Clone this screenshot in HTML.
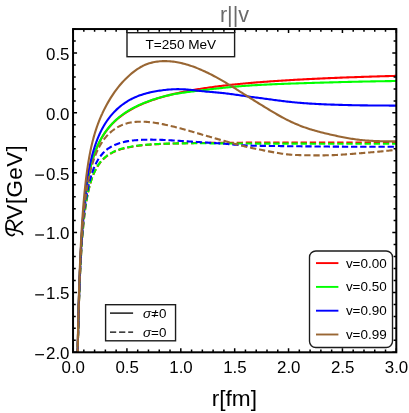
<!DOCTYPE html>
<html><head><meta charset="utf-8"><title>plot</title>
<style>html,body{margin:0;padding:0;background:#fff;}body{width:409px;height:413px;overflow:hidden;}svg{display:block;will-change:transform;}</style></head>
<body>
<svg width="409" height="413" viewBox="0 0 409 413">
<rect width="409" height="413" fill="#fff"/>
<defs><clipPath id="c"><rect x="73.05" y="29.05" width="323.25" height="323.25"/></clipPath></defs>
<g clip-path="url(#c)" fill="none" stroke-width="2.1" stroke-linejoin="round">
<path d="M76.28 455.80 L76.49 434.70 L76.70 416.02 L76.91 399.34 L77.12 384.37 L77.33 370.85 L77.54 358.59 L77.75 347.40 L77.96 337.16 L78.17 327.75 L78.38 319.07 L78.58 311.04 L78.79 303.58 L79.00 296.64 L79.21 290.17 L79.42 284.11 L79.63 278.43 L79.84 273.10 L80.05 268.07 L80.26 263.34 L80.47 258.86 L80.68 254.63 L80.89 250.61 L81.10 246.80 L81.31 243.18 L81.51 239.73 L81.72 236.44 L81.93 233.30 L82.14 230.30 L82.35 227.44 L82.56 224.69 L82.77 222.06 L82.98 219.53 L83.19 217.11 L83.40 214.78 L83.61 212.53 L83.82 210.38 L84.03 208.30 L84.24 206.29 L84.45 204.35 L84.65 202.48 L84.86 200.68 L85.07 198.93 L85.28 197.24 L85.49 195.60 L85.70 194.02 L85.91 192.48 L86.12 190.99 L86.33 189.55 L86.54 188.14 L86.75 186.78 L86.96 185.45 L87.17 184.16 L87.38 182.91 L87.58 181.69 L87.79 180.50 L88.00 179.34 L88.21 178.22 L88.42 177.12 L88.63 176.04 L88.84 175.00 L89.05 173.98 L89.26 172.98 L89.47 172.01 L89.68 171.06 L89.89 170.13 L90.10 169.22 L90.31 168.33 L90.51 167.46 L90.72 166.61 L90.93 165.78 L91.14 164.97 L91.35 164.17 L91.56 163.39 L91.77 162.62 L91.98 161.87 L92.19 161.13 L92.40 160.41 L92.61 159.70 L92.82 159.01 L93.03 158.33 L93.24 157.66 L93.44 157.00 L93.65 156.36 L93.86 155.72 L94.07 155.10 L94.28 154.49 L94.49 153.89 L94.70 153.30 L94.91 152.72 L95.12 152.14 L95.33 151.58 L95.54 151.03 L95.75 150.49 L95.96 149.95 L96.17 149.42 L96.38 148.91 L96.58 148.40 L96.79 147.89 L97.00 147.40 L97.21 146.91 L97.42 146.43 L97.63 145.96 L97.84 145.49 L98.05 145.03 L98.26 144.58 L98.47 144.13 L98.68 143.69 L98.89 143.25 L99.10 142.83 L99.31 142.40 L99.51 141.99 L99.72 141.57 L99.93 141.17 L100.14 140.77 L100.35 140.37 L100.56 139.98 L100.77 139.60 L100.98 139.22 L101.19 138.84 L101.40 138.47 L101.61 138.10 L101.82 137.74 L102.03 137.38 L102.24 137.03 L102.44 136.68 L102.65 136.33 L102.86 135.99 L103.07 135.66 L103.28 135.32 L103.49 134.99 L103.70 134.67 L103.91 134.34 L104.12 134.03 L104.33 133.71 L104.54 133.40 L104.75 133.09 L104.96 132.79 L105.17 132.48 L105.38 132.19 L106.70 130.36 L108.03 128.65 L109.36 127.04 L110.69 125.53 L112.02 124.09 L113.35 122.74 L114.67 121.45 L116.00 120.22 L117.33 119.06 L118.66 117.94 L119.99 116.88 L121.32 115.86 L122.64 114.88 L123.97 113.95 L125.30 113.05 L126.63 112.18 L127.96 111.35 L129.29 110.55 L130.62 109.78 L131.94 109.03 L133.27 108.31 L134.60 107.62 L135.93 106.94 L137.26 106.29 L138.59 105.66 L139.91 105.05 L141.24 104.45 L142.57 103.88 L143.90 103.32 L145.23 102.78 L146.56 102.25 L147.88 101.74 L149.21 101.24 L150.54 100.75 L151.87 100.28 L153.20 99.82 L154.53 99.38 L155.86 98.94 L157.18 98.51 L158.51 98.10 L159.84 97.69 L161.17 97.30 L162.50 96.91 L163.83 96.54 L165.15 96.17 L166.48 95.81 L167.81 95.46 L169.14 95.12 L170.47 94.78 L171.80 94.46 L173.12 94.14 L174.45 93.82 L175.78 93.52 L177.11 93.22 L178.44 92.92 L179.77 92.63 L181.10 92.35 L182.42 92.08 L183.75 91.80 L185.08 91.54 L186.41 91.28 L187.74 91.03 L189.07 90.78 L190.39 90.53 L191.72 90.29 L193.05 90.05 L194.38 89.82 L195.71 89.60 L197.04 89.37 L198.36 89.16 L199.69 88.94 L201.02 88.73 L202.35 88.52 L203.68 88.32 L205.01 88.12 L206.34 87.92 L207.66 87.73 L208.99 87.54 L210.32 87.36 L211.65 87.17 L212.98 86.99 L214.31 86.82 L215.63 86.64 L216.96 86.47 L218.29 86.30 L219.62 86.14 L220.95 85.98 L222.28 85.82 L223.60 85.66 L224.93 85.50 L226.26 85.35 L227.59 85.20 L228.92 85.05 L230.25 84.91 L231.58 84.76 L232.90 84.62 L234.23 84.48 L235.56 84.35 L236.89 84.21 L238.22 84.08 L239.55 83.95 L240.87 83.82 L242.20 83.69 L243.53 83.57 L244.86 83.44 L246.19 83.32 L247.52 83.20 L248.84 83.08 L250.17 82.97 L251.50 82.85 L252.83 82.74 L254.16 82.63 L255.49 82.52 L256.82 82.41 L258.14 82.30 L259.47 82.20 L260.80 82.09 L262.13 81.99 L263.46 81.89 L264.79 81.79 L266.11 81.69 L267.44 81.59 L268.77 81.49 L270.10 81.40 L271.43 81.30 L272.76 81.21 L274.08 81.12 L275.41 81.03 L276.74 80.94 L278.07 80.85 L279.40 80.77 L280.73 80.68 L282.06 80.59 L283.38 80.51 L284.71 80.43 L286.04 80.35 L287.37 80.27 L288.70 80.19 L290.03 80.11 L291.35 80.03 L292.68 79.95 L294.01 79.87 L295.34 79.80 L296.67 79.72 L298.00 79.65 L299.32 79.58 L300.65 79.51 L301.98 79.44 L303.31 79.37 L304.64 79.30 L305.97 79.23 L307.30 79.16 L308.62 79.09 L309.95 79.03 L311.28 78.96 L312.61 78.89 L313.94 78.83 L315.27 78.77 L316.59 78.70 L317.92 78.64 L319.25 78.58 L320.58 78.52 L321.91 78.46 L323.24 78.40 L324.57 78.34 L325.89 78.28 L327.22 78.22 L328.55 78.17 L329.88 78.11 L331.21 78.05 L332.54 78.00 L333.86 77.94 L335.19 77.89 L336.52 77.83 L337.85 77.78 L339.18 77.73 L340.51 77.67 L341.83 77.62 L343.16 77.57 L344.49 77.52 L345.82 77.47 L347.15 77.42 L348.48 77.37 L349.81 77.32 L351.13 77.27 L352.46 77.23 L353.79 77.18 L355.12 77.13 L356.45 77.08 L357.78 77.04 L359.10 76.99 L360.43 76.95 L361.76 76.90 L363.09 76.86 L364.42 76.81 L365.75 76.77 L367.07 76.73 L368.40 76.68 L369.73 76.64 L371.06 76.60 L372.39 76.56 L373.72 76.51 L375.05 76.47 L376.37 76.43 L377.70 76.39 L379.03 76.35 L380.36 76.31 L381.69 76.27 L383.02 76.23 L384.34 76.20 L385.67 76.16 L387.00 76.12 L388.33 76.08 L389.66 76.04 L390.99 76.01 L392.31 75.97 L393.64 75.93 L394.97 75.90 L396.30 75.86" stroke="#ff0000"/>
<path d="M76.28 458.99 L76.49 438.10 L76.70 419.61 L76.91 403.13 L77.12 388.36 L77.33 375.04 L77.54 362.97 L77.75 351.98 L77.96 341.93 L78.17 332.72 L78.38 324.23 L78.58 316.39 L78.79 309.13 L79.00 302.38 L79.21 296.10 L79.42 290.23 L79.63 284.74 L79.84 279.60 L80.05 274.76 L80.26 270.21 L80.47 265.92 L80.68 261.87 L80.89 258.04 L81.10 254.42 L81.31 250.98 L81.51 247.71 L81.72 244.61 L81.93 241.65 L82.14 238.83 L82.35 236.15 L82.56 233.58 L82.77 231.13 L82.98 228.78 L83.19 226.54 L83.40 224.38 L83.61 222.32 L83.82 220.33 L84.03 218.43 L84.24 216.60 L84.45 214.84 L84.65 213.14 L84.86 211.51 L85.07 209.93 L85.28 208.41 L85.49 206.95 L85.70 205.53 L85.91 204.17 L86.12 202.85 L86.33 201.57 L86.54 200.33 L86.75 199.14 L86.96 197.98 L87.17 196.85 L87.38 195.77 L87.58 194.71 L87.79 193.69 L88.00 192.69 L88.21 191.73 L88.42 190.79 L88.63 189.88 L88.84 189.00 L89.05 188.14 L89.26 187.30 L89.47 186.49 L89.68 185.70 L89.89 184.93 L90.10 184.17 L90.31 183.44 L90.51 182.73 L90.72 182.04 L90.93 181.36 L91.14 180.70 L91.35 180.06 L91.56 179.43 L91.77 178.82 L91.98 178.22 L92.19 177.64 L92.40 177.07 L92.61 176.51 L92.82 175.97 L93.03 175.43 L93.24 174.91 L93.44 174.41 L93.65 173.91 L93.86 173.43 L94.07 172.95 L94.28 172.49 L94.49 172.03 L94.70 171.59 L94.91 171.15 L95.12 170.72 L95.33 170.31 L95.54 169.90 L95.75 169.50 L95.96 169.11 L96.17 168.72 L96.38 168.35 L96.58 167.98 L96.79 167.61 L97.00 167.26 L97.21 166.91 L97.42 166.57 L97.63 166.24 L97.84 165.91 L98.05 165.59 L98.26 165.27 L98.47 164.96 L98.68 164.66 L98.89 164.36 L99.10 164.07 L99.31 163.78 L99.51 163.49 L99.72 163.22 L99.93 162.94 L100.14 162.68 L100.35 162.41 L100.56 162.16 L100.77 161.90 L100.98 161.65 L101.19 161.41 L101.40 161.17 L101.61 160.93 L101.82 160.70 L102.03 160.47 L102.24 160.24 L102.44 160.02 L102.65 159.80 L102.86 159.59 L103.07 159.38 L103.28 159.17 L103.49 158.97 L103.70 158.77 L103.91 158.57 L104.12 158.38 L104.33 158.19 L104.54 158.00 L104.75 157.81 L104.96 157.63 L105.17 157.45 L105.38 157.28 L106.70 156.22 L108.03 155.26 L109.36 154.38 L110.69 153.58 L112.02 152.85 L113.35 152.17 L114.67 151.56 L116.00 150.99 L117.33 150.46 L118.66 149.98 L119.99 149.53 L121.32 149.12 L122.64 148.73 L123.97 148.37 L125.30 148.04 L126.63 147.73 L127.96 147.44 L129.29 147.17 L130.62 146.92 L131.94 146.69 L133.27 146.47 L134.60 146.26 L135.93 146.07 L137.26 145.89 L138.59 145.72 L139.91 145.56 L141.24 145.41 L142.57 145.27 L143.90 145.13 L145.23 145.01 L146.56 144.89 L147.88 144.78 L149.21 144.68 L150.54 144.58 L151.87 144.48 L153.20 144.39 L154.53 144.31 L155.86 144.23 L157.18 144.16 L158.51 144.09 L159.84 144.02 L161.17 143.96 L162.50 143.90 L163.83 143.84 L165.15 143.78 L166.48 143.73 L167.81 143.68 L169.14 143.64 L170.47 143.59 L171.80 143.55 L173.12 143.51 L174.45 143.47 L175.78 143.43 L177.11 143.40 L178.44 143.37 L179.77 143.33 L181.10 143.30 L182.42 143.27 L183.75 143.25 L185.08 143.22 L186.41 143.19 L187.74 143.17 L189.07 143.15 L190.39 143.12 L191.72 143.10 L193.05 143.08 L194.38 143.06 L195.71 143.04 L197.04 143.02 L198.36 143.01 L199.69 142.99 L201.02 142.97 L202.35 142.96 L203.68 142.94 L205.01 142.93 L206.34 142.91 L207.66 142.90 L208.99 142.89 L210.32 142.88 L211.65 142.86 L212.98 142.85 L214.31 142.84 L215.63 142.83 L216.96 142.82 L218.29 142.81 L219.62 142.80 L220.95 142.79 L222.28 142.78 L223.60 142.77 L224.93 142.76 L226.26 142.75 L227.59 142.75 L228.92 142.74 L230.25 142.73 L231.58 142.72 L232.90 142.72 L234.23 142.71 L235.56 142.70 L236.89 142.70 L238.22 142.69 L239.55 142.69 L240.87 142.68 L242.20 142.68 L243.53 142.67 L244.86 142.67 L246.19 142.66 L247.52 142.66 L248.84 142.65 L250.17 142.65 L251.50 142.64 L252.83 142.64 L254.16 142.64 L255.49 142.63 L256.82 142.63 L258.14 142.62 L259.47 142.62 L260.80 142.62 L262.13 142.62 L263.46 142.61 L264.79 142.61 L266.11 142.61 L267.44 142.60 L268.77 142.60 L270.10 142.60 L271.43 142.60 L272.76 142.59 L274.08 142.59 L275.41 142.59 L276.74 142.59 L278.07 142.59 L279.40 142.59 L280.73 142.58 L282.06 142.58 L283.38 142.58 L284.71 142.58 L286.04 142.58 L287.37 142.58 L288.70 142.57 L290.03 142.57 L291.35 142.57 L292.68 142.57 L294.01 142.57 L295.34 142.57 L296.67 142.57 L298.00 142.57 L299.32 142.56 L300.65 142.56 L301.98 142.56 L303.31 142.56 L304.64 142.56 L305.97 142.56 L307.30 142.56 L308.62 142.56 L309.95 142.56 L311.28 142.56 L312.61 142.56 L313.94 142.56 L315.27 142.56 L316.59 142.56 L317.92 142.56 L319.25 142.55 L320.58 142.55 L321.91 142.55 L323.24 142.55 L324.57 142.55 L325.89 142.55 L327.22 142.55 L328.55 142.55 L329.88 142.55 L331.21 142.55 L332.54 142.55 L333.86 142.55 L335.19 142.55 L336.52 142.55 L337.85 142.55 L339.18 142.55 L340.51 142.55 L341.83 142.55 L343.16 142.55 L344.49 142.55 L345.82 142.55 L347.15 142.55 L348.48 142.55 L349.81 142.55 L351.13 142.55 L352.46 142.55 L353.79 142.55 L355.12 142.55 L356.45 142.55 L357.78 142.55 L359.10 142.55 L360.43 142.55 L361.76 142.55 L363.09 142.55 L364.42 142.55 L365.75 142.55 L367.07 142.55 L368.40 142.55 L369.73 142.55 L371.06 142.55 L372.39 142.55 L373.72 142.55 L375.05 142.55 L376.37 142.55 L377.70 142.55 L379.03 142.55 L380.36 142.56 L381.69 142.56 L383.02 142.56 L384.34 142.56 L385.67 142.56 L387.00 142.56 L388.33 142.56 L389.66 142.56 L390.99 142.56 L392.31 142.56 L393.64 142.56 L394.97 142.56 L396.30 142.56" stroke="#ff0000" stroke-dasharray="6.3 2.84" stroke-dashoffset="7.04"/>
<path d="M76.28 455.77 L76.49 434.67 L76.70 415.98 L76.91 399.31 L77.12 384.33 L77.33 370.81 L77.54 358.54 L77.75 347.36 L77.96 337.11 L78.17 327.70 L78.38 319.02 L78.58 310.98 L78.79 303.53 L79.00 296.59 L79.21 290.11 L79.42 284.05 L79.63 278.37 L79.84 273.03 L80.05 268.01 L80.26 263.27 L80.47 258.79 L80.68 254.55 L80.89 250.54 L81.10 246.72 L81.31 243.10 L81.51 239.65 L81.72 236.36 L81.93 233.22 L82.14 230.22 L82.35 227.35 L82.56 224.60 L82.77 221.97 L82.98 219.44 L83.19 217.01 L83.40 214.68 L83.61 212.43 L83.82 210.27 L84.03 208.19 L84.24 206.18 L84.45 204.25 L84.65 202.37 L84.86 200.57 L85.07 198.82 L85.28 197.13 L85.49 195.49 L85.70 193.90 L85.91 192.36 L86.12 190.87 L86.33 189.42 L86.54 188.01 L86.75 186.65 L86.96 185.32 L87.17 184.03 L87.38 182.78 L87.58 181.55 L87.79 180.36 L88.00 179.20 L88.21 178.07 L88.42 176.97 L88.63 175.90 L88.84 174.85 L89.05 173.83 L89.26 172.83 L89.47 171.86 L89.68 170.90 L89.89 169.97 L90.10 169.06 L90.31 168.17 L90.51 167.30 L90.72 166.45 L90.93 165.61 L91.14 164.80 L91.35 164.00 L91.56 163.21 L91.77 162.45 L91.98 161.69 L92.19 160.96 L92.40 160.23 L92.61 159.52 L92.82 158.83 L93.03 158.14 L93.24 157.47 L93.44 156.81 L93.65 156.17 L93.86 155.53 L94.07 154.91 L94.28 154.29 L94.49 153.69 L94.70 153.10 L94.91 152.52 L95.12 151.94 L95.33 151.38 L95.54 150.83 L95.75 150.28 L95.96 149.74 L96.17 149.22 L96.38 148.70 L96.58 148.18 L96.79 147.68 L97.00 147.18 L97.21 146.69 L97.42 146.21 L97.63 145.74 L97.84 145.27 L98.05 144.81 L98.26 144.35 L98.47 143.90 L98.68 143.46 L98.89 143.02 L99.10 142.59 L99.31 142.17 L99.51 141.75 L99.72 141.34 L99.93 140.93 L100.14 140.53 L100.35 140.13 L100.56 139.74 L100.77 139.35 L100.98 138.97 L101.19 138.59 L101.40 138.22 L101.61 137.85 L101.82 137.49 L102.03 137.13 L102.24 136.77 L102.44 136.42 L102.65 136.07 L102.86 135.73 L103.07 135.39 L103.28 135.06 L103.49 134.73 L103.70 134.40 L103.91 134.08 L104.12 133.76 L104.33 133.44 L104.54 133.13 L104.75 132.82 L104.96 132.51 L105.17 132.21 L105.38 131.91 L106.70 130.08 L108.03 128.36 L109.36 126.74 L110.69 125.22 L112.02 123.78 L113.35 122.41 L114.67 121.12 L116.00 119.89 L117.33 118.71 L118.66 117.60 L119.99 116.53 L121.32 115.51 L122.64 114.53 L123.97 113.59 L125.30 112.69 L126.63 111.82 L127.96 110.99 L129.29 110.19 L130.62 109.42 L131.94 108.68 L133.27 107.96 L134.60 107.27 L135.93 106.60 L137.26 105.95 L138.59 105.32 L139.91 104.72 L141.24 104.13 L142.57 103.56 L143.90 103.01 L145.23 102.48 L146.56 101.96 L147.88 101.46 L149.21 100.97 L150.54 100.49 L151.87 100.03 L153.20 99.58 L154.53 99.14 L155.86 98.72 L157.18 98.30 L158.51 97.90 L159.84 97.51 L161.17 97.14 L162.50 96.77 L163.83 96.42 L165.15 96.08 L166.48 95.76 L167.81 95.44 L169.14 95.14 L170.47 94.86 L171.80 94.58 L173.12 94.32 L174.45 94.07 L175.78 93.83 L177.11 93.60 L178.44 93.38 L179.77 93.17 L181.10 92.97 L182.42 92.77 L183.75 92.59 L185.08 92.41 L186.41 92.23 L187.74 92.06 L189.07 91.89 L190.39 91.73 L191.72 91.56 L193.05 91.40 L194.38 91.24 L195.71 91.08 L197.04 90.91 L198.36 90.75 L199.69 90.58 L201.02 90.42 L202.35 90.25 L203.68 90.09 L205.01 89.92 L206.34 89.76 L207.66 89.60 L208.99 89.44 L210.32 89.28 L211.65 89.12 L212.98 88.97 L214.31 88.82 L215.63 88.67 L216.96 88.52 L218.29 88.38 L219.62 88.23 L220.95 88.09 L222.28 87.95 L223.60 87.81 L224.93 87.67 L226.26 87.53 L227.59 87.40 L228.92 87.27 L230.25 87.14 L231.58 87.01 L232.90 86.88 L234.23 86.76 L235.56 86.64 L236.89 86.52 L238.22 86.40 L239.55 86.29 L240.87 86.18 L242.20 86.07 L243.53 85.97 L244.86 85.87 L246.19 85.77 L247.52 85.68 L248.84 85.59 L250.17 85.50 L251.50 85.41 L252.83 85.32 L254.16 85.24 L255.49 85.16 L256.82 85.08 L258.14 85.00 L259.47 84.93 L260.80 84.86 L262.13 84.79 L263.46 84.72 L264.79 84.65 L266.11 84.58 L267.44 84.52 L268.77 84.46 L270.10 84.40 L271.43 84.34 L272.76 84.28 L274.08 84.22 L275.41 84.16 L276.74 84.11 L278.07 84.06 L279.40 84.00 L280.73 83.95 L282.06 83.90 L283.38 83.85 L284.71 83.80 L286.04 83.75 L287.37 83.71 L288.70 83.66 L290.03 83.61 L291.35 83.57 L292.68 83.52 L294.01 83.48 L295.34 83.44 L296.67 83.39 L298.00 83.35 L299.32 83.31 L300.65 83.26 L301.98 83.22 L303.31 83.18 L304.64 83.14 L305.97 83.10 L307.30 83.06 L308.62 83.02 L309.95 82.98 L311.28 82.94 L312.61 82.90 L313.94 82.86 L315.27 82.82 L316.59 82.78 L317.92 82.75 L319.25 82.71 L320.58 82.67 L321.91 82.63 L323.24 82.59 L324.57 82.55 L325.89 82.52 L327.22 82.48 L328.55 82.44 L329.88 82.40 L331.21 82.36 L332.54 82.33 L333.86 82.29 L335.19 82.25 L336.52 82.22 L337.85 82.18 L339.18 82.14 L340.51 82.11 L341.83 82.07 L343.16 82.04 L344.49 82.00 L345.82 81.97 L347.15 81.94 L348.48 81.90 L349.81 81.87 L351.13 81.84 L352.46 81.81 L353.79 81.77 L355.12 81.74 L356.45 81.71 L357.78 81.68 L359.10 81.66 L360.43 81.63 L361.76 81.60 L363.09 81.57 L364.42 81.54 L365.75 81.52 L367.07 81.49 L368.40 81.46 L369.73 81.44 L371.06 81.41 L372.39 81.39 L373.72 81.37 L375.05 81.34 L376.37 81.32 L377.70 81.29 L379.03 81.27 L380.36 81.25 L381.69 81.23 L383.02 81.21 L384.34 81.18 L385.67 81.16 L387.00 81.14 L388.33 81.12 L389.66 81.10 L390.99 81.08 L392.31 81.06 L393.64 81.05 L394.97 81.03 L396.30 81.01" stroke="#00ff00"/>
<path d="M76.28 458.95 L76.49 438.06 L76.70 419.57 L76.91 403.09 L77.12 388.31 L77.33 374.99 L77.54 362.92 L77.75 351.93 L77.96 341.88 L78.17 332.66 L78.38 324.17 L78.58 316.33 L78.79 309.06 L79.00 302.31 L79.21 296.03 L79.42 290.16 L79.63 284.67 L79.84 279.52 L80.05 274.68 L80.26 270.13 L80.47 265.84 L80.68 261.79 L80.89 257.96 L81.10 254.33 L81.31 250.89 L81.51 247.62 L81.72 244.51 L81.93 241.55 L82.14 238.73 L82.35 236.04 L82.56 233.48 L82.77 231.02 L82.98 228.67 L83.19 226.42 L83.40 224.27 L83.61 222.20 L83.82 220.22 L84.03 218.31 L84.24 216.48 L84.45 214.71 L84.65 213.01 L84.86 211.38 L85.07 209.80 L85.28 208.28 L85.49 206.81 L85.70 205.40 L85.91 204.03 L86.12 202.70 L86.33 201.43 L86.54 200.19 L86.75 198.99 L86.96 197.83 L87.17 196.70 L87.38 195.61 L87.58 194.56 L87.79 193.53 L88.00 192.53 L88.21 191.57 L88.42 190.63 L88.63 189.72 L88.84 188.83 L89.05 187.97 L89.26 187.13 L89.47 186.32 L89.68 185.52 L89.89 184.75 L90.10 184.00 L90.31 183.26 L90.51 182.55 L90.72 181.86 L90.93 181.18 L91.14 180.52 L91.35 179.87 L91.56 179.24 L91.77 178.63 L91.98 178.03 L92.19 177.44 L92.40 176.87 L92.61 176.31 L92.82 175.77 L93.03 175.23 L93.24 174.71 L93.44 174.20 L93.65 173.71 L93.86 173.22 L94.07 172.74 L94.28 172.28 L94.49 171.82 L94.70 171.37 L94.91 170.94 L95.12 170.51 L95.33 170.09 L95.54 169.68 L95.75 169.28 L95.96 168.88 L96.17 168.50 L96.38 168.12 L96.58 167.75 L96.79 167.39 L97.00 167.03 L97.21 166.68 L97.42 166.34 L97.63 166.01 L97.84 165.68 L98.05 165.35 L98.26 165.04 L98.47 164.72 L98.68 164.42 L98.89 164.12 L99.10 163.83 L99.31 163.54 L99.51 163.25 L99.72 162.98 L99.93 162.70 L100.14 162.43 L100.35 162.17 L100.56 161.91 L100.77 161.66 L100.98 161.41 L101.19 161.16 L101.40 160.92 L101.61 160.68 L101.82 160.45 L102.03 160.22 L102.24 159.99 L102.44 159.77 L102.65 159.55 L102.86 159.34 L103.07 159.13 L103.28 158.92 L103.49 158.71 L103.70 158.51 L103.91 158.31 L104.12 158.12 L104.33 157.93 L104.54 157.74 L104.75 157.55 L104.96 157.37 L105.17 157.19 L105.38 157.02 L106.70 155.95 L108.03 154.99 L109.36 154.11 L110.69 153.31 L112.02 152.58 L113.35 151.91 L114.67 151.29 L116.00 150.73 L117.33 150.20 L118.66 149.72 L119.99 149.28 L121.32 148.86 L122.64 148.48 L123.97 148.13 L125.30 147.80 L126.63 147.49 L127.96 147.21 L129.29 146.94 L130.62 146.69 L131.94 146.46 L133.27 146.25 L134.60 146.04 L135.93 145.85 L137.26 145.68 L138.59 145.51 L139.91 145.36 L141.24 145.21 L142.57 145.07 L143.90 144.95 L145.23 144.83 L146.56 144.71 L147.88 144.61 L149.21 144.51 L150.54 144.42 L151.87 144.33 L153.20 144.25 L154.53 144.17 L155.86 144.10 L157.18 144.03 L158.51 143.97 L159.84 143.91 L161.17 143.85 L162.50 143.80 L163.83 143.75 L165.15 143.71 L166.48 143.66 L167.81 143.62 L169.14 143.59 L170.47 143.55 L171.80 143.52 L173.12 143.49 L174.45 143.47 L175.78 143.44 L177.11 143.42 L178.44 143.40 L179.77 143.38 L181.10 143.37 L182.42 143.35 L183.75 143.34 L185.08 143.33 L186.41 143.32 L187.74 143.31 L189.07 143.30 L190.39 143.30 L191.72 143.30 L193.05 143.29 L194.38 143.29 L195.71 143.29 L197.04 143.29 L198.36 143.29 L199.69 143.29 L201.02 143.30 L202.35 143.30 L203.68 143.30 L205.01 143.31 L206.34 143.31 L207.66 143.32 L208.99 143.32 L210.32 143.33 L211.65 143.34 L212.98 143.35 L214.31 143.35 L215.63 143.36 L216.96 143.37 L218.29 143.38 L219.62 143.39 L220.95 143.40 L222.28 143.41 L223.60 143.41 L224.93 143.42 L226.26 143.43 L227.59 143.44 L228.92 143.45 L230.25 143.46 L231.58 143.47 L232.90 143.48 L234.23 143.48 L235.56 143.49 L236.89 143.50 L238.22 143.51 L239.55 143.51 L240.87 143.52 L242.20 143.53 L243.53 143.53 L244.86 143.54 L246.19 143.55 L247.52 143.55 L248.84 143.56 L250.17 143.56 L251.50 143.57 L252.83 143.57 L254.16 143.58 L255.49 143.58 L256.82 143.59 L258.14 143.59 L259.47 143.60 L260.80 143.60 L262.13 143.60 L263.46 143.61 L264.79 143.61 L266.11 143.61 L267.44 143.62 L268.77 143.62 L270.10 143.62 L271.43 143.62 L272.76 143.63 L274.08 143.63 L275.41 143.63 L276.74 143.63 L278.07 143.64 L279.40 143.64 L280.73 143.64 L282.06 143.64 L283.38 143.64 L284.71 143.65 L286.04 143.65 L287.37 143.65 L288.70 143.65 L290.03 143.65 L291.35 143.66 L292.68 143.66 L294.01 143.66 L295.34 143.66 L296.67 143.66 L298.00 143.66 L299.32 143.67 L300.65 143.67 L301.98 143.67 L303.31 143.67 L304.64 143.67 L305.97 143.67 L307.30 143.68 L308.62 143.68 L309.95 143.68 L311.28 143.68 L312.61 143.68 L313.94 143.68 L315.27 143.69 L316.59 143.69 L317.92 143.69 L319.25 143.69 L320.58 143.69 L321.91 143.69 L323.24 143.70 L324.57 143.70 L325.89 143.70 L327.22 143.70 L328.55 143.70 L329.88 143.70 L331.21 143.70 L332.54 143.70 L333.86 143.71 L335.19 143.71 L336.52 143.71 L337.85 143.71 L339.18 143.71 L340.51 143.71 L341.83 143.71 L343.16 143.72 L344.49 143.72 L345.82 143.72 L347.15 143.72 L348.48 143.72 L349.81 143.72 L351.13 143.72 L352.46 143.72 L353.79 143.72 L355.12 143.73 L356.45 143.73 L357.78 143.73 L359.10 143.73 L360.43 143.73 L361.76 143.73 L363.09 143.73 L364.42 143.73 L365.75 143.73 L367.07 143.74 L368.40 143.74 L369.73 143.74 L371.06 143.74 L372.39 143.74 L373.72 143.74 L375.05 143.74 L376.37 143.74 L377.70 143.74 L379.03 143.74 L380.36 143.74 L381.69 143.75 L383.02 143.75 L384.34 143.75 L385.67 143.75 L387.00 143.75 L388.33 143.75 L389.66 143.75 L390.99 143.75 L392.31 143.75 L393.64 143.75 L394.97 143.76 L396.30 143.76" stroke="#00ff00" stroke-dasharray="6.3 2.84" stroke-dashoffset="6.86"/>
<path d="M76.28 455.56 L76.49 434.44 L76.70 415.72 L76.91 399.01 L77.12 384.00 L77.33 370.44 L77.54 358.13 L77.75 346.90 L77.96 336.61 L78.17 327.14 L78.38 318.41 L78.58 310.32 L78.79 302.80 L79.00 295.79 L79.21 289.25 L79.42 283.12 L79.63 277.36 L79.84 271.95 L80.05 266.85 L80.26 262.03 L80.47 257.47 L80.68 253.15 L80.89 249.05 L81.10 245.15 L81.31 241.43 L81.51 237.89 L81.72 234.51 L81.93 231.28 L82.14 228.19 L82.35 225.23 L82.56 222.40 L82.77 219.67 L82.98 217.05 L83.19 214.54 L83.40 212.12 L83.61 209.79 L83.82 207.54 L84.03 205.37 L84.24 203.28 L84.45 201.26 L84.65 199.31 L84.86 197.42 L85.07 195.59 L85.28 193.82 L85.49 192.11 L85.70 190.44 L85.91 188.83 L86.12 187.26 L86.33 185.74 L86.54 184.26 L86.75 182.83 L86.96 181.43 L87.17 180.07 L87.38 178.74 L87.58 177.45 L87.79 176.19 L88.00 174.96 L88.21 173.77 L88.42 172.60 L88.63 171.46 L88.84 170.34 L89.05 169.25 L89.26 168.19 L89.47 167.14 L89.68 166.12 L89.89 165.13 L90.10 164.15 L90.31 163.19 L90.51 162.26 L90.72 161.34 L90.93 160.44 L91.14 159.56 L91.35 158.69 L91.56 157.84 L91.77 157.01 L91.98 156.19 L92.19 155.39 L92.40 154.60 L92.61 153.83 L92.82 153.07 L93.03 152.32 L93.24 151.59 L93.44 150.87 L93.65 150.16 L93.86 149.47 L94.07 148.78 L94.28 148.11 L94.49 147.45 L94.70 146.79 L94.91 146.15 L95.12 145.52 L95.33 144.90 L95.54 144.29 L95.75 143.69 L95.96 143.10 L96.17 142.51 L96.38 141.94 L96.58 141.37 L96.79 140.81 L97.00 140.26 L97.21 139.72 L97.42 139.19 L97.63 138.66 L97.84 138.14 L98.05 137.63 L98.26 137.12 L98.47 136.62 L98.68 136.13 L98.89 135.65 L99.10 135.17 L99.31 134.70 L99.51 134.23 L99.72 133.77 L99.93 133.32 L100.14 132.87 L100.35 132.43 L100.56 131.99 L100.77 131.56 L100.98 131.14 L101.19 130.72 L101.40 130.30 L101.61 129.89 L101.82 129.49 L102.03 129.09 L102.24 128.69 L102.44 128.30 L102.65 127.91 L102.86 127.53 L103.07 127.15 L103.28 126.78 L103.49 126.41 L103.70 126.05 L103.91 125.69 L104.12 125.33 L104.33 124.98 L104.54 124.63 L104.75 124.29 L104.96 123.95 L105.17 123.61 L105.38 123.28 L106.70 121.25 L108.03 119.35 L109.36 117.57 L110.69 115.90 L112.02 114.33 L113.35 112.85 L114.67 111.45 L116.00 110.13 L117.33 108.88 L118.66 107.69 L119.99 106.57 L121.32 105.50 L122.64 104.49 L123.97 103.53 L125.30 102.63 L126.63 101.77 L127.96 100.95 L129.29 100.18 L130.62 99.45 L131.94 98.77 L133.27 98.11 L134.60 97.50 L135.93 96.91 L137.26 96.36 L138.59 95.85 L139.91 95.35 L141.24 94.89 L142.57 94.46 L143.90 94.04 L145.23 93.66 L146.56 93.29 L147.88 92.95 L149.21 92.62 L150.54 92.32 L151.87 92.03 L153.20 91.76 L154.53 91.51 L155.86 91.26 L157.18 91.04 L158.51 90.82 L159.84 90.62 L161.17 90.43 L162.50 90.25 L163.83 90.08 L165.15 89.93 L166.48 89.78 L167.81 89.65 L169.14 89.54 L170.47 89.44 L171.80 89.35 L173.12 89.28 L174.45 89.23 L175.78 89.19 L177.11 89.17 L178.44 89.16 L179.77 89.18 L181.10 89.21 L182.42 89.26 L183.75 89.33 L185.08 89.41 L186.41 89.51 L187.74 89.62 L189.07 89.74 L190.39 89.87 L191.72 90.01 L193.05 90.15 L194.38 90.30 L195.71 90.45 L197.04 90.60 L198.36 90.75 L199.69 90.90 L201.02 91.05 L202.35 91.19 L203.68 91.32 L205.01 91.45 L206.34 91.58 L207.66 91.70 L208.99 91.82 L210.32 91.93 L211.65 92.05 L212.98 92.16 L214.31 92.28 L215.63 92.39 L216.96 92.51 L218.29 92.63 L219.62 92.75 L220.95 92.88 L222.28 93.02 L223.60 93.16 L224.93 93.30 L226.26 93.46 L227.59 93.62 L228.92 93.79 L230.25 93.96 L231.58 94.13 L232.90 94.31 L234.23 94.50 L235.56 94.68 L236.89 94.87 L238.22 95.06 L239.55 95.25 L240.87 95.44 L242.20 95.63 L243.53 95.82 L244.86 96.01 L246.19 96.20 L247.52 96.38 L248.84 96.57 L250.17 96.75 L251.50 96.92 L252.83 97.10 L254.16 97.28 L255.49 97.45 L256.82 97.63 L258.14 97.80 L259.47 97.98 L260.80 98.15 L262.13 98.32 L263.46 98.50 L264.79 98.67 L266.11 98.85 L267.44 99.03 L268.77 99.21 L270.10 99.39 L271.43 99.56 L272.76 99.74 L274.08 99.92 L275.41 100.10 L276.74 100.28 L278.07 100.45 L279.40 100.63 L280.73 100.80 L282.06 100.97 L283.38 101.13 L284.71 101.30 L286.04 101.46 L287.37 101.61 L288.70 101.76 L290.03 101.91 L291.35 102.05 L292.68 102.19 L294.01 102.32 L295.34 102.45 L296.67 102.57 L298.00 102.69 L299.32 102.81 L300.65 102.92 L301.98 103.03 L303.31 103.13 L304.64 103.23 L305.97 103.32 L307.30 103.42 L308.62 103.50 L309.95 103.59 L311.28 103.67 L312.61 103.75 L313.94 103.82 L315.27 103.90 L316.59 103.97 L317.92 104.03 L319.25 104.10 L320.58 104.16 L321.91 104.22 L323.24 104.27 L324.57 104.33 L325.89 104.38 L327.22 104.43 L328.55 104.48 L329.88 104.53 L331.21 104.58 L332.54 104.63 L333.86 104.67 L335.19 104.72 L336.52 104.76 L337.85 104.80 L339.18 104.84 L340.51 104.88 L341.83 104.92 L343.16 104.96 L344.49 104.99 L345.82 105.03 L347.15 105.06 L348.48 105.09 L349.81 105.12 L351.13 105.15 L352.46 105.18 L353.79 105.21 L355.12 105.24 L356.45 105.26 L357.78 105.29 L359.10 105.31 L360.43 105.33 L361.76 105.35 L363.09 105.37 L364.42 105.39 L365.75 105.41 L367.07 105.42 L368.40 105.44 L369.73 105.45 L371.06 105.47 L372.39 105.48 L373.72 105.49 L375.05 105.50 L376.37 105.51 L377.70 105.52 L379.03 105.53 L380.36 105.54 L381.69 105.55 L383.02 105.55 L384.34 105.56 L385.67 105.56 L387.00 105.57 L388.33 105.57 L389.66 105.58 L390.99 105.58 L392.31 105.59 L393.64 105.59 L394.97 105.60 L396.30 105.60" stroke="#0000ff"/>
<path d="M76.28 457.78 L76.49 436.81 L76.70 418.25 L76.91 401.70 L77.12 386.85 L77.33 373.46 L77.54 361.32 L77.75 350.26 L77.96 340.15 L78.17 330.86 L78.38 322.30 L78.58 314.40 L78.79 307.07 L79.00 300.25 L79.21 293.90 L79.42 287.97 L79.63 282.42 L79.84 277.21 L80.05 272.31 L80.26 267.70 L80.47 263.35 L80.68 259.24 L80.89 255.35 L81.10 251.66 L81.31 248.17 L81.51 244.84 L81.72 241.68 L81.93 238.67 L82.14 235.79 L82.35 233.05 L82.56 230.43 L82.77 227.92 L82.98 225.52 L83.19 223.22 L83.40 221.02 L83.61 218.90 L83.82 216.87 L84.03 214.91 L84.24 213.03 L84.45 211.22 L84.65 209.48 L84.86 207.80 L85.07 206.18 L85.28 204.61 L85.49 203.10 L85.70 201.64 L85.91 200.23 L86.12 198.86 L86.33 197.54 L86.54 196.26 L86.75 195.02 L86.96 193.82 L87.17 192.66 L87.38 191.53 L87.58 190.43 L87.79 189.37 L88.00 188.34 L88.21 187.33 L88.42 186.36 L88.63 185.41 L88.84 184.49 L89.05 183.59 L89.26 182.71 L89.47 181.86 L89.68 181.04 L89.89 180.23 L90.10 179.44 L90.31 178.68 L90.51 177.93 L90.72 177.20 L90.93 176.49 L91.14 175.80 L91.35 175.12 L91.56 174.46 L91.77 173.81 L91.98 173.18 L92.19 172.57 L92.40 171.97 L92.61 171.38 L92.82 170.80 L93.03 170.24 L93.24 169.69 L93.44 169.15 L93.65 168.63 L93.86 168.11 L94.07 167.61 L94.28 167.11 L94.49 166.63 L94.70 166.16 L94.91 165.69 L95.12 165.24 L95.33 164.79 L95.54 164.36 L95.75 163.93 L95.96 163.51 L96.17 163.10 L96.38 162.69 L96.58 162.30 L96.79 161.91 L97.00 161.53 L97.21 161.16 L97.42 160.79 L97.63 160.43 L97.84 160.08 L98.05 159.74 L98.26 159.40 L98.47 159.06 L98.68 158.74 L98.89 158.41 L99.10 158.10 L99.31 157.79 L99.51 157.49 L99.72 157.19 L99.93 156.89 L100.14 156.60 L100.35 156.32 L100.56 156.04 L100.77 155.77 L100.98 155.50 L101.19 155.24 L101.40 154.98 L101.61 154.72 L101.82 154.47 L102.03 154.23 L102.24 153.99 L102.44 153.75 L102.65 153.51 L102.86 153.28 L103.07 153.06 L103.28 152.84 L103.49 152.62 L103.70 152.40 L103.91 152.19 L104.12 151.99 L104.33 151.78 L104.54 151.58 L104.75 151.39 L104.96 151.19 L105.17 151.00 L105.38 150.81 L106.70 149.70 L108.03 148.69 L109.36 147.79 L110.69 146.98 L112.02 146.24 L113.35 145.57 L114.67 144.96 L116.00 144.41 L117.33 143.90 L118.66 143.43 L119.99 143.01 L121.32 142.62 L122.64 142.26 L123.97 141.94 L125.30 141.65 L126.63 141.38 L127.96 141.15 L129.29 140.93 L130.62 140.74 L131.94 140.58 L133.27 140.43 L134.60 140.30 L135.93 140.18 L137.26 140.08 L138.59 139.99 L139.91 139.92 L141.24 139.86 L142.57 139.80 L143.90 139.76 L145.23 139.73 L146.56 139.70 L147.88 139.68 L149.21 139.67 L150.54 139.67 L151.87 139.67 L153.20 139.68 L154.53 139.69 L155.86 139.71 L157.18 139.74 L158.51 139.77 L159.84 139.81 L161.17 139.86 L162.50 139.91 L163.83 139.96 L165.15 140.02 L166.48 140.08 L167.81 140.15 L169.14 140.22 L170.47 140.29 L171.80 140.36 L173.12 140.44 L174.45 140.52 L175.78 140.60 L177.11 140.69 L178.44 140.77 L179.77 140.85 L181.10 140.94 L182.42 141.03 L183.75 141.11 L185.08 141.20 L186.41 141.29 L187.74 141.37 L189.07 141.46 L190.39 141.55 L191.72 141.63 L193.05 141.72 L194.38 141.81 L195.71 141.89 L197.04 141.98 L198.36 142.06 L199.69 142.14 L201.02 142.23 L202.35 142.31 L203.68 142.39 L205.01 142.47 L206.34 142.55 L207.66 142.63 L208.99 142.71 L210.32 142.79 L211.65 142.87 L212.98 142.95 L214.31 143.04 L215.63 143.12 L216.96 143.21 L218.29 143.30 L219.62 143.39 L220.95 143.49 L222.28 143.59 L223.60 143.69 L224.93 143.79 L226.26 143.90 L227.59 144.01 L228.92 144.13 L230.25 144.24 L231.58 144.36 L232.90 144.47 L234.23 144.58 L235.56 144.70 L236.89 144.81 L238.22 144.91 L239.55 145.01 L240.87 145.11 L242.20 145.20 L243.53 145.29 L244.86 145.36 L246.19 145.44 L247.52 145.50 L248.84 145.55 L250.17 145.60 L251.50 145.65 L252.83 145.69 L254.16 145.72 L255.49 145.75 L256.82 145.77 L258.14 145.80 L259.47 145.81 L260.80 145.83 L262.13 145.85 L263.46 145.86 L264.79 145.88 L266.11 145.89 L267.44 145.91 L268.77 145.92 L270.10 145.94 L271.43 145.96 L272.76 145.97 L274.08 145.99 L275.41 146.01 L276.74 146.03 L278.07 146.05 L279.40 146.07 L280.73 146.09 L282.06 146.11 L283.38 146.13 L284.71 146.15 L286.04 146.17 L287.37 146.18 L288.70 146.20 L290.03 146.22 L291.35 146.23 L292.68 146.25 L294.01 146.26 L295.34 146.27 L296.67 146.29 L298.00 146.30 L299.32 146.31 L300.65 146.32 L301.98 146.33 L303.31 146.34 L304.64 146.35 L305.97 146.36 L307.30 146.38 L308.62 146.39 L309.95 146.40 L311.28 146.41 L312.61 146.42 L313.94 146.43 L315.27 146.45 L316.59 146.46 L317.92 146.47 L319.25 146.48 L320.58 146.50 L321.91 146.51 L323.24 146.52 L324.57 146.53 L325.89 146.54 L327.22 146.56 L328.55 146.57 L329.88 146.58 L331.21 146.59 L332.54 146.60 L333.86 146.61 L335.19 146.62 L336.52 146.63 L337.85 146.64 L339.18 146.65 L340.51 146.66 L341.83 146.66 L343.16 146.67 L344.49 146.68 L345.82 146.68 L347.15 146.69 L348.48 146.69 L349.81 146.70 L351.13 146.70 L352.46 146.70 L353.79 146.71 L355.12 146.71 L356.45 146.71 L357.78 146.71 L359.10 146.71 L360.43 146.71 L361.76 146.71 L363.09 146.71 L364.42 146.71 L365.75 146.71 L367.07 146.71 L368.40 146.70 L369.73 146.70 L371.06 146.70 L372.39 146.70 L373.72 146.70 L375.05 146.70 L376.37 146.70 L377.70 146.69 L379.03 146.69 L380.36 146.69 L381.69 146.69 L383.02 146.69 L384.34 146.69 L385.67 146.69 L387.00 146.69 L388.33 146.69 L389.66 146.70 L390.99 146.70 L392.31 146.70 L393.64 146.70 L394.97 146.70 L396.30 146.70" stroke="#0000ff" stroke-dasharray="6.3 2.84" stroke-dashoffset="6.45"/>
<path d="M76.28 453.60 L76.49 432.35 L76.70 413.49 L76.91 396.65 L77.12 381.51 L77.33 367.82 L77.54 355.37 L77.75 344.00 L77.96 333.58 L78.17 323.97 L78.38 315.10 L78.58 306.86 L78.79 299.20 L79.00 292.05 L79.21 285.37 L79.42 279.09 L79.63 273.19 L79.84 267.63 L80.05 262.38 L80.26 257.41 L80.47 252.70 L80.68 248.23 L80.89 243.97 L81.10 239.92 L81.31 236.05 L81.51 232.35 L81.72 228.82 L81.93 225.43 L82.14 222.18 L82.35 219.07 L82.56 216.07 L82.77 213.18 L82.98 210.41 L83.19 207.73 L83.40 205.15 L83.61 202.65 L83.82 200.24 L84.03 197.91 L84.24 195.66 L84.45 193.47 L84.65 191.36 L84.86 189.30 L85.07 187.31 L85.28 185.38 L85.49 183.50 L85.70 181.68 L85.91 179.91 L86.12 178.18 L86.33 176.50 L86.54 174.87 L86.75 173.28 L86.96 171.73 L87.17 170.22 L87.38 168.75 L87.58 167.31 L87.79 165.91 L88.00 164.55 L88.21 163.22 L88.42 161.92 L88.63 160.65 L88.84 159.41 L89.05 158.21 L89.26 157.03 L89.47 155.87 L89.68 154.75 L89.89 153.65 L90.10 152.58 L90.31 151.53 L90.51 150.50 L90.72 149.49 L90.93 148.51 L91.14 147.55 L91.35 146.60 L91.56 145.68 L91.77 144.77 L91.98 143.89 L92.19 143.02 L92.40 142.16 L92.61 141.33 L92.82 140.51 L93.03 139.70 L93.24 138.91 L93.44 138.13 L93.65 137.36 L93.86 136.61 L94.07 135.87 L94.28 135.14 L94.49 134.42 L94.70 133.72 L94.91 133.02 L95.12 132.34 L95.33 131.66 L95.54 131.00 L95.75 130.34 L95.96 129.70 L96.17 129.06 L96.38 128.43 L96.58 127.81 L96.79 127.20 L97.00 126.59 L97.21 126.00 L97.42 125.41 L97.63 124.83 L97.84 124.26 L98.05 123.69 L98.26 123.13 L98.47 122.58 L98.68 122.03 L98.89 121.49 L99.10 120.96 L99.31 120.43 L99.51 119.91 L99.72 119.39 L99.93 118.89 L100.14 118.38 L100.35 117.88 L100.56 117.39 L100.77 116.90 L100.98 116.42 L101.19 115.94 L101.40 115.46 L101.61 115.00 L101.82 114.53 L102.03 114.07 L102.24 113.62 L102.44 113.16 L102.65 112.72 L102.86 112.27 L103.07 111.83 L103.28 111.40 L103.49 110.97 L103.70 110.54 L103.91 110.11 L104.12 109.69 L104.33 109.28 L104.54 108.86 L104.75 108.45 L104.96 108.04 L105.17 107.64 L105.38 107.24 L106.70 104.75 L108.03 102.38 L109.36 100.10 L110.69 97.92 L112.02 95.83 L113.35 93.83 L114.67 91.91 L116.00 90.07 L117.33 88.32 L118.66 86.64 L119.99 85.03 L121.32 83.49 L122.64 82.01 L123.97 80.60 L125.30 79.23 L126.63 77.92 L127.96 76.66 L129.29 75.45 L130.62 74.28 L131.94 73.16 L133.27 72.10 L134.60 71.08 L135.93 70.11 L137.26 69.19 L138.59 68.33 L139.91 67.52 L141.24 66.76 L142.57 66.06 L143.90 65.41 L145.23 64.82 L146.56 64.28 L147.88 63.79 L149.21 63.35 L150.54 62.96 L151.87 62.61 L153.20 62.30 L154.53 62.03 L155.86 61.80 L157.18 61.61 L158.51 61.45 L159.84 61.32 L161.17 61.23 L162.50 61.16 L163.83 61.12 L165.15 61.12 L166.48 61.14 L167.81 61.18 L169.14 61.26 L170.47 61.36 L171.80 61.48 L173.12 61.64 L174.45 61.81 L175.78 62.01 L177.11 62.24 L178.44 62.48 L179.77 62.76 L181.10 63.05 L182.42 63.36 L183.75 63.70 L185.08 64.06 L186.41 64.43 L187.74 64.83 L189.07 65.24 L190.39 65.68 L191.72 66.13 L193.05 66.60 L194.38 67.09 L195.71 67.59 L197.04 68.12 L198.36 68.65 L199.69 69.21 L201.02 69.77 L202.35 70.36 L203.68 70.95 L205.01 71.56 L206.34 72.19 L207.66 72.82 L208.99 73.47 L210.32 74.14 L211.65 74.81 L212.98 75.50 L214.31 76.20 L215.63 76.91 L216.96 77.63 L218.29 78.36 L219.62 79.11 L220.95 79.86 L222.28 80.63 L223.60 81.40 L224.93 82.19 L226.26 82.98 L227.59 83.78 L228.92 84.59 L230.25 85.41 L231.58 86.23 L232.90 87.06 L234.23 87.89 L235.56 88.73 L236.89 89.57 L238.22 90.41 L239.55 91.26 L240.87 92.10 L242.20 92.95 L243.53 93.80 L244.86 94.64 L246.19 95.49 L247.52 96.33 L248.84 97.17 L250.17 98.01 L251.50 98.84 L252.83 99.67 L254.16 100.51 L255.49 101.33 L256.82 102.16 L258.14 102.99 L259.47 103.81 L260.80 104.63 L262.13 105.45 L263.46 106.26 L264.79 107.08 L266.11 107.89 L267.44 108.70 L268.77 109.50 L270.10 110.31 L271.43 111.10 L272.76 111.90 L274.08 112.68 L275.41 113.46 L276.74 114.23 L278.07 115.00 L279.40 115.75 L280.73 116.49 L282.06 117.22 L283.38 117.94 L284.71 118.65 L286.04 119.34 L287.37 120.02 L288.70 120.68 L290.03 121.32 L291.35 121.95 L292.68 122.56 L294.01 123.15 L295.34 123.73 L296.67 124.29 L298.00 124.84 L299.32 125.38 L300.65 125.90 L301.98 126.40 L303.31 126.89 L304.64 127.37 L305.97 127.83 L307.30 128.28 L308.62 128.72 L309.95 129.15 L311.28 129.56 L312.61 129.96 L313.94 130.36 L315.27 130.74 L316.59 131.11 L317.92 131.47 L319.25 131.82 L320.58 132.16 L321.91 132.50 L323.24 132.83 L324.57 133.15 L325.89 133.47 L327.22 133.79 L328.55 134.10 L329.88 134.40 L331.21 134.70 L332.54 135.00 L333.86 135.30 L335.19 135.59 L336.52 135.88 L337.85 136.16 L339.18 136.44 L340.51 136.72 L341.83 136.99 L343.16 137.25 L344.49 137.51 L345.82 137.76 L347.15 138.00 L348.48 138.24 L349.81 138.46 L351.13 138.68 L352.46 138.88 L353.79 139.08 L355.12 139.27 L356.45 139.45 L357.78 139.61 L359.10 139.77 L360.43 139.92 L361.76 140.06 L363.09 140.19 L364.42 140.31 L365.75 140.43 L367.07 140.53 L368.40 140.63 L369.73 140.72 L371.06 140.80 L372.39 140.88 L373.72 140.95 L375.05 141.01 L376.37 141.07 L377.70 141.12 L379.03 141.16 L380.36 141.20 L381.69 141.23 L383.02 141.26 L384.34 141.29 L385.67 141.31 L387.00 141.33 L388.33 141.34 L389.66 141.35 L390.99 141.36 L392.31 141.37 L393.64 141.38 L394.97 141.39 L396.30 141.40" stroke="#996633"/>
<path d="M76.28 457.48 L76.49 436.48 L76.70 417.88 L76.91 401.29 L77.12 386.40 L77.33 372.96 L77.54 360.76 L77.75 349.64 L77.96 339.47 L78.17 330.11 L78.38 321.49 L78.58 313.51 L78.79 306.09 L79.00 299.20 L79.21 292.76 L79.42 286.73 L79.63 281.08 L79.84 275.77 L80.05 270.77 L80.26 266.05 L80.47 261.59 L80.68 257.37 L80.89 253.37 L81.10 249.56 L81.31 245.95 L81.51 242.50 L81.72 239.22 L81.93 236.08 L82.14 233.09 L82.35 230.22 L82.56 227.47 L82.77 224.84 L82.98 222.32 L83.19 219.89 L83.40 217.56 L83.61 215.32 L83.82 213.16 L84.03 211.08 L84.24 209.08 L84.45 207.15 L84.65 205.29 L84.86 203.49 L85.07 201.75 L85.28 200.07 L85.49 198.44 L85.70 196.87 L85.91 195.34 L86.12 193.87 L86.33 192.43 L86.54 191.04 L86.75 189.69 L86.96 188.38 L87.17 187.11 L87.38 185.87 L87.58 184.67 L87.79 183.50 L88.00 182.36 L88.21 181.25 L88.42 180.17 L88.63 179.11 L88.84 178.09 L89.05 177.08 L89.26 176.11 L89.47 175.15 L89.68 174.22 L89.89 173.31 L90.10 172.43 L90.31 171.56 L90.51 170.71 L90.72 169.88 L90.93 169.07 L91.14 168.28 L91.35 167.50 L91.56 166.74 L91.77 166.00 L91.98 165.27 L92.19 164.55 L92.40 163.86 L92.61 163.17 L92.82 162.50 L93.03 161.84 L93.24 161.20 L93.44 160.56 L93.65 159.94 L93.86 159.34 L94.07 158.74 L94.28 158.15 L94.49 157.58 L94.70 157.01 L94.91 156.46 L95.12 155.91 L95.33 155.38 L95.54 154.85 L95.75 154.34 L95.96 153.83 L96.17 153.33 L96.38 152.84 L96.58 152.36 L96.79 151.89 L97.00 151.42 L97.21 150.97 L97.42 150.52 L97.63 150.07 L97.84 149.64 L98.05 149.21 L98.26 148.79 L98.47 148.37 L98.68 147.96 L98.89 147.56 L99.10 147.17 L99.31 146.78 L99.51 146.39 L99.72 146.02 L99.93 145.64 L100.14 145.28 L100.35 144.92 L100.56 144.56 L100.77 144.21 L100.98 143.87 L101.19 143.52 L101.40 143.19 L101.61 142.86 L101.82 142.53 L102.03 142.21 L102.24 141.90 L102.44 141.58 L102.65 141.28 L102.86 140.97 L103.07 140.68 L103.28 140.38 L103.49 140.09 L103.70 139.80 L103.91 139.52 L104.12 139.24 L104.33 138.97 L104.54 138.69 L104.75 138.43 L104.96 138.16 L105.17 137.90 L105.38 137.64 L106.70 136.09 L108.03 134.66 L109.36 133.34 L110.69 132.13 L112.02 131.01 L113.35 129.98 L114.67 129.03 L116.00 128.16 L117.33 127.36 L118.66 126.63 L119.99 125.96 L121.32 125.35 L122.64 124.79 L123.97 124.30 L125.30 123.85 L126.63 123.45 L127.96 123.10 L129.29 122.80 L130.62 122.53 L131.94 122.31 L133.27 122.12 L134.60 121.97 L135.93 121.85 L137.26 121.77 L138.59 121.71 L139.91 121.68 L141.24 121.68 L142.57 121.70 L143.90 121.74 L145.23 121.80 L146.56 121.88 L147.88 121.99 L149.21 122.11 L150.54 122.24 L151.87 122.40 L153.20 122.57 L154.53 122.75 L155.86 122.95 L157.18 123.16 L158.51 123.38 L159.84 123.62 L161.17 123.86 L162.50 124.12 L163.83 124.39 L165.15 124.66 L166.48 124.95 L167.81 125.24 L169.14 125.54 L170.47 125.85 L171.80 126.16 L173.12 126.49 L174.45 126.82 L175.78 127.15 L177.11 127.49 L178.44 127.84 L179.77 128.19 L181.10 128.55 L182.42 128.91 L183.75 129.28 L185.08 129.65 L186.41 130.02 L187.74 130.40 L189.07 130.77 L190.39 131.16 L191.72 131.54 L193.05 131.92 L194.38 132.31 L195.71 132.70 L197.04 133.09 L198.36 133.48 L199.69 133.87 L201.02 134.26 L202.35 134.65 L203.68 135.04 L205.01 135.42 L206.34 135.81 L207.66 136.20 L208.99 136.58 L210.32 136.97 L211.65 137.35 L212.98 137.74 L214.31 138.12 L215.63 138.50 L216.96 138.88 L218.29 139.26 L219.62 139.63 L220.95 140.01 L222.28 140.38 L223.60 140.76 L224.93 141.13 L226.26 141.50 L227.59 141.86 L228.92 142.23 L230.25 142.59 L231.58 142.95 L232.90 143.31 L234.23 143.67 L235.56 144.02 L236.89 144.37 L238.22 144.71 L239.55 145.05 L240.87 145.38 L242.20 145.71 L243.53 146.04 L244.86 146.36 L246.19 146.67 L247.52 146.98 L248.84 147.29 L250.17 147.58 L251.50 147.88 L252.83 148.17 L254.16 148.45 L255.49 148.74 L256.82 149.01 L258.14 149.29 L259.47 149.56 L260.80 149.83 L262.13 150.09 L263.46 150.36 L264.79 150.62 L266.11 150.88 L267.44 151.13 L268.77 151.39 L270.10 151.64 L271.43 151.89 L272.76 152.14 L274.08 152.38 L275.41 152.61 L276.74 152.84 L278.07 153.06 L279.40 153.27 L280.73 153.48 L282.06 153.67 L283.38 153.86 L284.71 154.03 L286.04 154.19 L287.37 154.34 L288.70 154.47 L290.03 154.60 L291.35 154.70 L292.68 154.80 L294.01 154.88 L295.34 154.96 L296.67 155.02 L298.00 155.07 L299.32 155.12 L300.65 155.16 L301.98 155.19 L303.31 155.22 L304.64 155.24 L305.97 155.26 L307.30 155.28 L308.62 155.29 L309.95 155.31 L311.28 155.32 L312.61 155.33 L313.94 155.34 L315.27 155.35 L316.59 155.36 L317.92 155.36 L319.25 155.36 L320.58 155.36 L321.91 155.36 L323.24 155.35 L324.57 155.34 L325.89 155.32 L327.22 155.30 L328.55 155.27 L329.88 155.23 L331.21 155.19 L332.54 155.15 L333.86 155.09 L335.19 155.03 L336.52 154.96 L337.85 154.89 L339.18 154.81 L340.51 154.73 L341.83 154.64 L343.16 154.55 L344.49 154.46 L345.82 154.36 L347.15 154.27 L348.48 154.16 L349.81 154.06 L351.13 153.96 L352.46 153.85 L353.79 153.75 L355.12 153.64 L356.45 153.53 L357.78 153.43 L359.10 153.32 L360.43 153.21 L361.76 153.10 L363.09 152.99 L364.42 152.88 L365.75 152.77 L367.07 152.66 L368.40 152.55 L369.73 152.43 L371.06 152.32 L372.39 152.20 L373.72 152.08 L375.05 151.96 L376.37 151.84 L377.70 151.72 L379.03 151.59 L380.36 151.46 L381.69 151.34 L383.02 151.21 L384.34 151.08 L385.67 150.95 L387.00 150.82 L388.33 150.69 L389.66 150.55 L390.99 150.42 L392.31 150.29 L393.64 150.15 L394.97 150.02 L396.30 149.89" stroke="#996633" stroke-dasharray="6.3 2.84" stroke-dashoffset="7.54"/>
</g>
<rect x="73.05" y="29.05" width="323.25" height="323.25" fill="none" stroke="#000" stroke-width="2"/>
<path d="M73.05 352.30V348.30 M73.05 29.05V33.05 M83.83 352.30V349.60 M83.83 29.05V31.75 M94.60 352.30V349.60 M94.60 29.05V31.75 M105.38 352.30V349.60 M105.38 29.05V31.75 M116.15 352.30V349.60 M116.15 29.05V31.75 M126.92 352.30V348.30 M126.92 29.05V33.05 M137.70 352.30V349.60 M137.70 29.05V31.75 M148.47 352.30V349.60 M148.47 29.05V31.75 M159.25 352.30V349.60 M159.25 29.05V31.75 M170.03 352.30V349.60 M170.03 29.05V31.75 M180.80 352.30V348.30 M180.80 29.05V33.05 M191.58 352.30V349.60 M191.58 29.05V31.75 M202.35 352.30V349.60 M202.35 29.05V31.75 M213.12 352.30V349.60 M213.12 29.05V31.75 M223.90 352.30V349.60 M223.90 29.05V31.75 M234.68 352.30V348.30 M234.68 29.05V33.05 M245.45 352.30V349.60 M245.45 29.05V31.75 M256.22 352.30V349.60 M256.22 29.05V31.75 M267.00 352.30V349.60 M267.00 29.05V31.75 M277.77 352.30V349.60 M277.77 29.05V31.75 M288.55 352.30V348.30 M288.55 29.05V33.05 M299.32 352.30V349.60 M299.32 29.05V31.75 M310.10 352.30V349.60 M310.10 29.05V31.75 M320.87 352.30V349.60 M320.87 29.05V31.75 M331.65 352.30V349.60 M331.65 29.05V31.75 M342.43 352.30V348.30 M342.43 29.05V33.05 M353.20 352.30V349.60 M353.20 29.05V31.75 M363.98 352.30V349.60 M363.98 29.05V31.75 M374.75 352.30V349.60 M374.75 29.05V31.75 M385.52 352.30V349.60 M385.52 29.05V31.75 M396.30 352.30V348.30 M396.30 29.05V33.05 M73.05 352.30H77.05 M396.30 352.30H392.30 M73.05 340.33H75.75 M396.30 340.33H393.60 M73.05 328.36H75.75 M396.30 328.36H393.60 M73.05 316.38H75.75 M396.30 316.38H393.60 M73.05 304.41H75.75 M396.30 304.41H393.60 M73.05 292.44H77.05 M396.30 292.44H392.30 M73.05 280.47H75.75 M396.30 280.47H393.60 M73.05 268.49H75.75 M396.30 268.49H393.60 M73.05 256.52H75.75 M396.30 256.52H393.60 M73.05 244.55H75.75 M396.30 244.55H393.60 M73.05 232.58H77.05 M396.30 232.58H392.30 M73.05 220.61H75.75 M396.30 220.61H393.60 M73.05 208.63H75.75 M396.30 208.63H393.60 M73.05 196.66H75.75 M396.30 196.66H393.60 M73.05 184.69H75.75 M396.30 184.69H393.60 M73.05 172.72H77.05 M396.30 172.72H392.30 M73.05 160.74H75.75 M396.30 160.74H393.60 M73.05 148.77H75.75 M396.30 148.77H393.60 M73.05 136.80H75.75 M396.30 136.80H393.60 M73.05 124.83H75.75 M396.30 124.83H393.60 M73.05 112.86H77.05 M396.30 112.86H392.30 M73.05 100.88H75.75 M396.30 100.88H393.60 M73.05 88.91H75.75 M396.30 88.91H393.60 M73.05 76.94H75.75 M396.30 76.94H393.60 M73.05 64.97H75.75 M396.30 64.97H393.60 M73.05 52.99H77.05 M396.30 52.99H392.30 M73.05 41.02H75.75 M396.30 41.02H393.60 M73.05 29.05H75.75 M396.30 29.05H393.60" stroke="#000" stroke-width="1.5" fill="none"/>
<g font-family="'Liberation Sans', sans-serif" font-size="16.9" fill="#000">
<text x="73.25" y="372.7" text-anchor="middle">0.0</text>
<text x="127.12" y="372.7" text-anchor="middle">0.5</text>
<text x="181.00" y="372.7" text-anchor="middle">1.0</text>
<text x="234.88" y="372.7" text-anchor="middle">1.5</text>
<text x="288.75" y="372.7" text-anchor="middle">2.0</text>
<text x="342.62" y="372.7" text-anchor="middle">2.5</text>
<text x="396.50" y="372.7" text-anchor="middle">3.0</text>
<text x="69.5" y="59.79" text-anchor="end">0.5</text>
<text x="69.5" y="119.66" text-anchor="end">0.0</text>
<text x="69.5" y="179.52" text-anchor="end">0.5</text>
<path d="M35.2 175.12H44" stroke="#000" stroke-width="1.25" fill="none"/>
<text x="69.5" y="239.38" text-anchor="end">1.0</text>
<path d="M35.2 234.98H44" stroke="#000" stroke-width="1.25" fill="none"/>
<text x="69.5" y="299.24" text-anchor="end">1.5</text>
<path d="M35.2 294.84H44" stroke="#000" stroke-width="1.25" fill="none"/>
<text x="69.5" y="359.10" text-anchor="end">2.0</text>
<path d="M35.2 354.70H44" stroke="#000" stroke-width="1.25" fill="none"/>
</g>
<text x="234.5" y="21.5" text-anchor="middle" font-family="'Liberation Sans', sans-serif" font-size="21.6" fill="#6a6a6a">r||v</text>
<text x="234.4" y="405.9" text-anchor="middle" font-family="'Liberation Sans', sans-serif" font-size="22.65" fill="#000">r[fm]</text>
<g transform="translate(21.5 235.2) rotate(-90)">
<path d="M1.0 8.4 C-0.2 7.8 -0.6 6.0 0.2 4.0 C1.0 2.0 3.0 0.5 6.0 0.2 C9.0 -0.1 13.0 0.0 14.3 2.0 C15.3 3.6 14.5 6.0 12.5 7.3 C10.8 8.4 8.5 8.9 6.3 8.9 M6.6 1.2 C6.0 5.0 5.0 10.0 4.0 13.5 C3.5 15.3 2.5 16.8 0.8 16.6 M6.3 8.9 C8.0 9.3 9.3 10.5 10.3 12.0 C11.3 13.6 12.2 15.2 13.6 16.2" transform="translate(0 -15.6)" fill="none" stroke="#000" stroke-width="1.7" stroke-linecap="round" stroke-linejoin="round"/>
<text x="15.8" y="0" font-family="'Liberation Sans', sans-serif" font-size="22.3" letter-spacing="0.44" fill="#000">V[GeV]</text>
</g>
<rect x="127.0" y="32.7" width="107.6" height="24.0" fill="#fff" stroke="#1c1c1c" stroke-width="1.4"/>
<text x="180.85" y="49.3" text-anchor="middle" font-family="'Liberation Sans', sans-serif" font-size="13.6" fill="#000">T=250 MeV</text>
<rect x="105.6" y="304.7" width="69.95" height="36.1" fill="#fff" stroke="#1c1c1c" stroke-width="1.4"/>
<path d="M110 313.1H133.1" stroke="#000" stroke-width="1.35" fill="none"/>
<path d="M110 332.1H133.1" stroke="#000" stroke-width="1.35" fill="none" stroke-dasharray="6.2 2.9"/>
<g font-family="'Liberation Sans', sans-serif" font-size="13.4" fill="#000">
<text x="143" y="317.8"><tspan font-style="italic">σ</tspan>=0</text>
<path d="M155.9 310.1L154.2 317.2" stroke="#000" stroke-width="1.1" fill="none"/>
<text x="143" y="336.7"><tspan font-style="italic">σ</tspan>=0</text>
</g>
<rect x="309.5" y="251" width="83.0" height="96.5" rx="6.3" ry="6.3" fill="#fff" stroke="#1c1c1c" stroke-width="1.35"/>
<g font-family="'Liberation Sans', sans-serif" font-size="13.45" fill="#000">
<path d="M316 263.10H338.4" stroke="#ff0000" stroke-width="1.9" fill="none"/>
<text x="345.9" y="267.50">v=0.00</text>
<path d="M316 286.90H338.4" stroke="#00ff00" stroke-width="1.9" fill="none"/>
<text x="345.9" y="291.30">v=0.50</text>
<path d="M316 310.70H338.4" stroke="#0000ff" stroke-width="1.9" fill="none"/>
<text x="345.9" y="315.10">v=0.90</text>
<path d="M316 334.50H338.4" stroke="#996633" stroke-width="1.9" fill="none"/>
<text x="345.9" y="338.90">v=0.99</text>
</g>
</svg>
</body></html>
